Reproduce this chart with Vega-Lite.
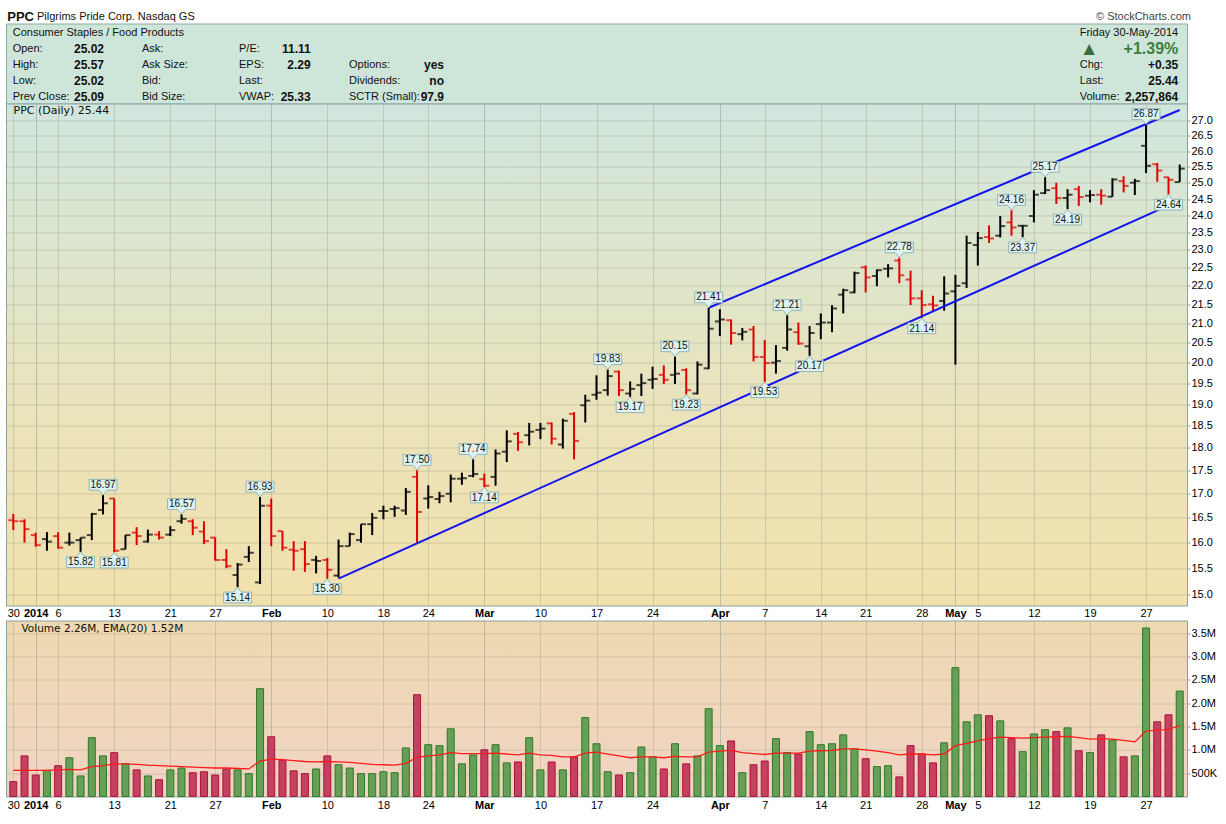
{
  "$schema": "https://vega.github.io/schema/vega-lite/v6.json",
  "background": "white",
  "padding": {"left": 5, "top": 9.5, "right": 5, "bottom": 5},
  "config": {
    "font": "Liberation Sans",
    "view": {"stroke": null},
    "axis": {"domain": false, "ticks": false, "labelFont": "Liberation Sans", "labelFontSize": 11, "labelColor": "#000"}
  },
  "datasets": {
    "bars": [
      {"date": "2013-12-30", "open": 16.45, "high": 16.58, "low": 16.25, "close": 16.43, "volume": 320000, "ema": 560000},
      {"date": "2013-12-31", "open": 16.43, "high": 16.47, "low": 16.00, "close": 16.27, "volume": 870000, "ema": 560000},
      {"date": "2014-01-02", "open": 16.15, "high": 16.20, "low": 15.92, "close": 15.95, "volume": 460000, "ema": 560000},
      {"date": "2014-01-03", "open": 16.07, "high": 16.21, "low": 15.84, "close": 16.02, "volume": 560000, "ema": 560000},
      {"date": "2014-01-06", "open": 16.13, "high": 16.21, "low": 15.88, "close": 15.90, "volume": 660000, "ema": 570000},
      {"date": "2014-01-07", "open": 16.00, "high": 16.20, "low": 15.94, "close": 16.00, "volume": 830000, "ema": 580000},
      {"date": "2014-01-08", "open": 16.05, "high": 16.10, "low": 15.82, "close": 16.10, "volume": 440000, "ema": 570000},
      {"date": "2014-01-09", "open": 16.15, "high": 16.60, "low": 16.05, "close": 16.58, "volume": 1260000, "ema": 640000},
      {"date": "2014-01-10", "open": 16.66, "high": 16.97, "low": 16.57, "close": 16.80, "volume": 870000, "ema": 660000},
      {"date": "2014-01-13", "open": 16.90, "high": 16.90, "low": 15.81, "close": 15.84, "volume": 940000, "ema": 700000},
      {"date": "2014-01-14", "open": 15.87, "high": 16.15, "low": 15.87, "close": 16.15, "volume": 700000, "ema": 700000},
      {"date": "2014-01-15", "open": 16.20, "high": 16.31, "low": 15.95, "close": 16.13, "volume": 570000, "ema": 690000},
      {"date": "2014-01-16", "open": 16.02, "high": 16.26, "low": 16.00, "close": 16.16, "volume": 440000, "ema": 670000},
      {"date": "2014-01-17", "open": 16.16, "high": 16.23, "low": 16.06, "close": 16.10, "volume": 360000, "ema": 660000},
      {"date": "2014-01-21", "open": 16.16, "high": 16.33, "low": 16.13, "close": 16.25, "volume": 570000, "ema": 650000},
      {"date": "2014-01-22", "open": 16.43, "high": 16.57, "low": 16.38, "close": 16.48, "volume": 610000, "ema": 640000},
      {"date": "2014-01-23", "open": 16.43, "high": 16.47, "low": 16.15, "close": 16.30, "volume": 510000, "ema": 630000},
      {"date": "2014-01-24", "open": 16.22, "high": 16.43, "low": 15.97, "close": 16.03, "volume": 530000, "ema": 620000},
      {"date": "2014-01-27", "open": 16.10, "high": 16.10, "low": 15.65, "close": 15.66, "volume": 460000, "ema": 610000},
      {"date": "2014-01-28", "open": 15.66, "high": 15.87, "low": 15.50, "close": 15.54, "volume": 590000, "ema": 610000},
      {"date": "2014-01-29", "open": 15.37, "high": 15.60, "low": 15.14, "close": 15.57, "volume": 570000, "ema": 600000},
      {"date": "2014-01-30", "open": 15.72, "high": 15.93, "low": 15.62, "close": 15.80, "volume": 490000, "ema": 590000},
      {"date": "2014-01-31", "open": 15.23, "high": 16.93, "low": 15.20, "close": 16.75, "volume": 2310000, "ema": 760000},
      {"date": "2014-02-03", "open": 16.75, "high": 16.90, "low": 15.93, "close": 16.13, "volume": 1280000, "ema": 800000},
      {"date": "2014-02-04", "open": 16.23, "high": 16.23, "low": 15.84, "close": 15.90, "volume": 780000, "ema": 790000},
      {"date": "2014-02-05", "open": 15.86, "high": 16.03, "low": 15.45, "close": 15.84, "volume": 550000, "ema": 770000},
      {"date": "2014-02-06", "open": 15.87, "high": 16.03, "low": 15.43, "close": 15.58, "volume": 490000, "ema": 750000},
      {"date": "2014-02-07", "open": 15.66, "high": 15.74, "low": 15.40, "close": 15.64, "volume": 590000, "ema": 740000},
      {"date": "2014-02-10", "open": 15.66, "high": 15.70, "low": 15.30, "close": 15.47, "volume": 870000, "ema": 750000},
      {"date": "2014-02-11", "open": 15.36, "high": 16.06, "low": 15.32, "close": 15.93, "volume": 680000, "ema": 740000},
      {"date": "2014-02-12", "open": 15.93, "high": 16.20, "low": 15.93, "close": 16.17, "volume": 610000, "ema": 730000},
      {"date": "2014-02-13", "open": 16.05, "high": 16.37, "low": 16.00, "close": 16.37, "volume": 490000, "ema": 710000},
      {"date": "2014-02-14", "open": 16.37, "high": 16.60, "low": 16.15, "close": 16.50, "volume": 490000, "ema": 690000},
      {"date": "2014-02-18", "open": 16.64, "high": 16.75, "low": 16.47, "close": 16.64, "volume": 530000, "ema": 680000},
      {"date": "2014-02-19", "open": 16.68, "high": 16.75, "low": 16.52, "close": 16.70, "volume": 510000, "ema": 670000},
      {"date": "2014-02-20", "open": 16.65, "high": 17.12, "low": 16.56, "close": 17.04, "volume": 1040000, "ema": 710000},
      {"date": "2014-02-21", "open": 17.36, "high": 17.50, "low": 16.00, "close": 16.62, "volume": 2180000, "ema": 840000},
      {"date": "2014-02-24", "open": 16.90, "high": 17.18, "low": 16.69, "close": 16.93, "volume": 1110000, "ema": 870000},
      {"date": "2014-02-25", "open": 16.89, "high": 17.04, "low": 16.80, "close": 16.95, "volume": 1090000, "ema": 890000},
      {"date": "2014-02-26", "open": 17.00, "high": 17.41, "low": 16.82, "close": 17.32, "volume": 1450000, "ema": 940000},
      {"date": "2014-02-27", "open": 17.32, "high": 17.45, "low": 17.19, "close": 17.33, "volume": 700000, "ema": 920000},
      {"date": "2014-02-28", "open": 17.38, "high": 17.74, "low": 17.35, "close": 17.42, "volume": 890000, "ema": 920000},
      {"date": "2014-03-03", "open": 17.31, "high": 17.43, "low": 17.14, "close": 17.17, "volume": 1000000, "ema": 920000},
      {"date": "2014-03-04", "open": 17.36, "high": 17.96, "low": 17.17, "close": 17.87, "volume": 1110000, "ema": 930000},
      {"date": "2014-03-05", "open": 17.91, "high": 18.39, "low": 17.68, "close": 18.14, "volume": 720000, "ema": 910000},
      {"date": "2014-03-06", "open": 18.31, "high": 18.35, "low": 17.93, "close": 18.12, "volume": 740000, "ema": 890000},
      {"date": "2014-03-07", "open": 18.28, "high": 18.56, "low": 18.05, "close": 18.36, "volume": 1260000, "ema": 930000},
      {"date": "2014-03-10", "open": 18.40, "high": 18.56, "low": 18.19, "close": 18.43, "volume": 570000, "ema": 890000},
      {"date": "2014-03-11", "open": 18.55, "high": 18.57, "low": 18.07, "close": 18.20, "volume": 740000, "ema": 880000},
      {"date": "2014-03-12", "open": 18.07, "high": 18.66, "low": 17.98, "close": 18.61, "volume": 570000, "ema": 850000},
      {"date": "2014-03-13", "open": 18.77, "high": 18.81, "low": 17.74, "close": 18.15, "volume": 850000, "ema": 850000},
      {"date": "2014-03-14", "open": 18.97, "high": 19.22, "low": 18.57, "close": 19.08, "volume": 1690000, "ema": 930000},
      {"date": "2014-03-17", "open": 19.22, "high": 19.69, "low": 19.10, "close": 19.27, "volume": 1130000, "ema": 950000},
      {"date": "2014-03-18", "open": 19.33, "high": 19.83, "low": 19.20, "close": 19.67, "volume": 530000, "ema": 910000},
      {"date": "2014-03-19", "open": 19.78, "high": 19.80, "low": 19.19, "close": 19.33, "volume": 460000, "ema": 870000},
      {"date": "2014-03-20", "open": 19.25, "high": 19.54, "low": 19.17, "close": 19.36, "volume": 510000, "ema": 830000},
      {"date": "2014-03-21", "open": 19.45, "high": 19.73, "low": 19.19, "close": 19.50, "volume": 1060000, "ema": 850000},
      {"date": "2014-03-24", "open": 19.58, "high": 19.90, "low": 19.36, "close": 19.60, "volume": 850000, "ema": 850000},
      {"date": "2014-03-25", "open": 19.70, "high": 19.93, "low": 19.48, "close": 19.58, "volume": 590000, "ema": 830000},
      {"date": "2014-03-26", "open": 19.70, "high": 20.15, "low": 19.48, "close": 19.73, "volume": 1130000, "ema": 860000},
      {"date": "2014-03-27", "open": 19.82, "high": 19.86, "low": 19.23, "close": 19.33, "volume": 700000, "ema": 850000},
      {"date": "2014-03-28", "open": 19.25, "high": 20.03, "low": 19.23, "close": 19.95, "volume": 870000, "ema": 850000},
      {"date": "2014-03-31", "open": 19.86, "high": 21.41, "low": 19.84, "close": 20.86, "volume": 1880000, "ema": 950000},
      {"date": "2014-04-01", "open": 21.05, "high": 21.37, "low": 20.67, "close": 21.10, "volume": 1090000, "ema": 970000},
      {"date": "2014-04-02", "open": 21.08, "high": 21.10, "low": 20.45, "close": 20.75, "volume": 1190000, "ema": 990000},
      {"date": "2014-04-03", "open": 20.72, "high": 20.88, "low": 20.56, "close": 20.78, "volume": 510000, "ema": 940000},
      {"date": "2014-04-04", "open": 20.84, "high": 20.93, "low": 20.03, "close": 20.14, "volume": 680000, "ema": 920000},
      {"date": "2014-04-07", "open": 20.14, "high": 20.57, "low": 19.53, "close": 19.99, "volume": 760000, "ema": 900000},
      {"date": "2014-04-08", "open": 20.00, "high": 20.44, "low": 19.73, "close": 20.04, "volume": 1240000, "ema": 930000},
      {"date": "2014-04-09", "open": 20.37, "high": 21.21, "low": 20.30, "close": 20.84, "volume": 940000, "ema": 930000},
      {"date": "2014-04-10", "open": 20.77, "high": 21.02, "low": 20.45, "close": 20.48, "volume": 910000, "ema": 930000},
      {"date": "2014-04-11", "open": 20.41, "high": 20.93, "low": 20.17, "close": 20.75, "volume": 1390000, "ema": 970000},
      {"date": "2014-04-14", "open": 20.98, "high": 21.26, "low": 20.59, "close": 21.02, "volume": 1110000, "ema": 980000},
      {"date": "2014-04-15", "open": 21.02, "high": 21.48, "low": 20.77, "close": 21.39, "volume": 1130000, "ema": 990000},
      {"date": "2014-04-16", "open": 21.76, "high": 21.92, "low": 21.26, "close": 21.88, "volume": 1320000, "ema": 1020000},
      {"date": "2014-04-17", "open": 21.82, "high": 22.39, "low": 21.80, "close": 22.35, "volume": 1020000, "ema": 1020000},
      {"date": "2014-04-21", "open": 22.51, "high": 22.56, "low": 21.82, "close": 22.23, "volume": 810000, "ema": 1000000},
      {"date": "2014-04-22", "open": 22.27, "high": 22.45, "low": 21.99, "close": 22.43, "volume": 640000, "ema": 970000},
      {"date": "2014-04-23", "open": 22.47, "high": 22.60, "low": 22.23, "close": 22.48, "volume": 660000, "ema": 940000},
      {"date": "2014-04-24", "open": 22.70, "high": 22.78, "low": 22.07, "close": 22.29, "volume": 420000, "ema": 890000},
      {"date": "2014-04-25", "open": 22.17, "high": 22.42, "low": 21.48, "close": 21.66, "volume": 1090000, "ema": 910000},
      {"date": "2014-04-28", "open": 21.66, "high": 21.88, "low": 21.14, "close": 21.48, "volume": 910000, "ema": 910000},
      {"date": "2014-04-29", "open": 21.50, "high": 21.73, "low": 21.30, "close": 21.47, "volume": 720000, "ema": 890000},
      {"date": "2014-04-30", "open": 21.59, "high": 22.26, "low": 21.33, "close": 21.79, "volume": 1150000, "ema": 910000},
      {"date": "2014-05-01", "open": 21.85, "high": 22.30, "low": 19.95, "close": 22.00, "volume": 2760000, "ema": 1090000},
      {"date": "2014-05-02", "open": 22.07, "high": 23.41, "low": 21.94, "close": 23.20, "volume": 1600000, "ema": 1140000},
      {"date": "2014-05-05", "open": 23.14, "high": 23.52, "low": 22.56, "close": 23.34, "volume": 1750000, "ema": 1190000},
      {"date": "2014-05-06", "open": 23.37, "high": 23.71, "low": 23.20, "close": 23.33, "volume": 1730000, "ema": 1240000},
      {"date": "2014-05-07", "open": 23.41, "high": 23.99, "low": 23.36, "close": 23.69, "volume": 1620000, "ema": 1270000},
      {"date": "2014-05-08", "open": 23.80, "high": 24.16, "low": 23.41, "close": 23.65, "volume": 1240000, "ema": 1260000},
      {"date": "2014-05-09", "open": 23.70, "high": 23.72, "low": 23.37, "close": 23.70, "volume": 960000, "ema": 1250000},
      {"date": "2014-05-12", "open": 23.99, "high": 24.77, "low": 23.80, "close": 24.63, "volume": 1340000, "ema": 1260000},
      {"date": "2014-05-13", "open": 24.68, "high": 25.17, "low": 24.65, "close": 24.77, "volume": 1430000, "ema": 1270000},
      {"date": "2014-05-14", "open": 24.83, "high": 25.00, "low": 24.35, "close": 24.53, "volume": 1390000, "ema": 1280000},
      {"date": "2014-05-15", "open": 24.53, "high": 24.80, "low": 24.19, "close": 24.63, "volume": 1470000, "ema": 1290000},
      {"date": "2014-05-16", "open": 24.80, "high": 24.90, "low": 24.29, "close": 24.56, "volume": 980000, "ema": 1260000},
      {"date": "2014-05-19", "open": 24.60, "high": 24.77, "low": 24.40, "close": 24.62, "volume": 940000, "ema": 1230000},
      {"date": "2014-05-20", "open": 24.63, "high": 24.80, "low": 24.33, "close": 24.60, "volume": 1320000, "ema": 1240000},
      {"date": "2014-05-21", "open": 24.57, "high": 25.14, "low": 24.57, "close": 25.10, "volume": 1210000, "ema": 1230000},
      {"date": "2014-05-22", "open": 25.05, "high": 25.20, "low": 24.70, "close": 24.90, "volume": 850000, "ema": 1200000},
      {"date": "2014-05-23", "open": 25.00, "high": 25.12, "low": 24.62, "close": 25.05, "volume": 870000, "ema": 1170000},
      {"date": "2014-05-27", "open": 26.17, "high": 26.87, "low": 25.30, "close": 25.53, "volume": 3610000, "ema": 1400000},
      {"date": "2014-05-28", "open": 25.58, "high": 25.62, "low": 25.03, "close": 25.38, "volume": 1600000, "ema": 1420000},
      {"date": "2014-05-29", "open": 25.17, "high": 25.18, "low": 24.64, "close": 25.09, "volume": 1750000, "ema": 1440000},
      {"date": "2014-05-30", "open": 25.02, "high": 25.57, "low": 25.02, "close": 25.44, "volume": 2257864, "ema": 1520000}
    ],
    "channels": [
      {"line": "lower", "date": "2014-02-11", "price": 15.30},
      {"line": "lower", "date": "2014-05-30", "price": 24.46},
      {"line": "upper", "date": "2014-03-31", "price": 21.41},
      {"line": "upper", "date": "2014-05-30", "price": 27.36}
    ],
    "peaks": [
      {"date": "2014-01-10", "price": 16.97, "side": "high"},
      {"date": "2014-01-22", "price": 16.57, "side": "high"},
      {"date": "2014-01-31", "price": 16.93, "side": "high"},
      {"date": "2014-02-21", "price": 17.50, "side": "high"},
      {"date": "2014-02-28", "price": 17.74, "side": "high"},
      {"date": "2014-03-18", "price": 19.83, "side": "high"},
      {"date": "2014-03-26", "price": 20.15, "side": "high"},
      {"date": "2014-03-31", "price": 21.41, "side": "high"},
      {"date": "2014-04-09", "price": 21.21, "side": "high"},
      {"date": "2014-04-24", "price": 22.78, "side": "high"},
      {"date": "2014-05-08", "price": 24.16, "side": "high"},
      {"date": "2014-05-13", "price": 25.17, "side": "high"},
      {"date": "2014-05-27", "price": 26.87, "side": "high"},
      {"date": "2014-01-08", "price": 15.82, "side": "low"},
      {"date": "2014-01-13", "price": 15.81, "side": "low"},
      {"date": "2014-01-29", "price": 15.14, "side": "low"},
      {"date": "2014-02-10", "price": 15.30, "side": "low"},
      {"date": "2014-03-03", "price": 17.14, "side": "low"},
      {"date": "2014-03-20", "price": 19.17, "side": "low"},
      {"date": "2014-03-27", "price": 19.23, "side": "low"},
      {"date": "2014-04-07", "price": 19.53, "side": "low"},
      {"date": "2014-04-11", "price": 20.17, "side": "low"},
      {"date": "2014-04-28", "price": 21.14, "side": "low"},
      {"date": "2014-05-09", "price": 23.37, "side": "low"},
      {"date": "2014-05-15", "price": 24.19, "side": "low"},
      {"date": "2014-05-29", "price": 24.64, "side": "low"}
    ],
    "quote": [
      {"row": 0, "col": 0, "label": "Pilgrims Pride Corp. Nasdaq GS", "value": "PPC"},
      {"row": 0, "col": 6, "label": "© StockCharts.com", "value": ""},
      {"row": 1, "col": 1, "label": "Consumer Staples / Food Products", "value": ""},
      {"row": 1, "col": 5, "label": "Friday  30-May-2014", "value": ""},
      {"row": 2, "col": 1, "label": "Open:", "value": "25.02"},
      {"row": 3, "col": 1, "label": "High:", "value": "25.57"},
      {"row": 4, "col": 1, "label": "Low:", "value": "25.02"},
      {"row": 5, "col": 1, "label": "Prev Close:", "value": "25.09"},
      {"row": 2, "col": 2, "label": "Ask:", "value": ""},
      {"row": 3, "col": 2, "label": "Ask Size:", "value": ""},
      {"row": 4, "col": 2, "label": "Bid:", "value": ""},
      {"row": 5, "col": 2, "label": "Bid Size:", "value": ""},
      {"row": 2, "col": 3, "label": "P/E:", "value": "11.11"},
      {"row": 3, "col": 3, "label": "EPS:", "value": "2.29"},
      {"row": 4, "col": 3, "label": "Last:", "value": ""},
      {"row": 5, "col": 3, "label": "VWAP:", "value": "25.33"},
      {"row": 3, "col": 4, "label": "Options:", "value": "yes"},
      {"row": 4, "col": 4, "label": "Dividends:", "value": "no"},
      {"row": 5, "col": 4, "label": "SCTR (Small):", "value": "97.9"},
      {"row": 2, "col": 5, "label": "▲", "value": "+1.39%"},
      {"row": 3, "col": 5, "label": "Chg:", "value": "+0.35"},
      {"row": 4, "col": 5, "label": "Last:", "value": "25.44"},
      {"row": 5, "col": 5, "label": "Volume:", "value": "2,257,864"}
    ]
  },
  "bounds": "flush",
  "spacing": 0,
  "vconcat": [
    {
      "width": 1181,
      "height": 80,
      "data": {"name": "quote"},
      "view": {"fill": "#cee5d9", "stroke": "#8fa9a9"},
      "resolve": {"scale": {"x": "independent"}},
      "layer": [
        {
          "mark": {"type": "text", "align": "left", "baseline": "middle"},
          "encoding": {
            "x": {"field": "col", "type": "quantitative", "axis": null,
                  "scale": {"domain": [0, 1, 2, 3, 4, 5, 6], "range": [31, 6.7, 136, 233, 343, 1073.7, 1090], "nice": false, "zero": false}},
            "y": {"field": "row", "type": "quantitative", "axis": null,
                  "scale": {"domain": [0, 5], "range": [-7, 73.7], "nice": false, "zero": false}},
            "text": {"field": "label"},
            "color": {"condition": [
              {"test": "datum.label == '▲'", "value": "#3a6b3a"},
              {"test": "datum.col == 6", "value": "#444444"}
            ], "value": "#111111"},
            "size": {"condition": [
              {"test": "datum.label == '▲'", "value": 19},
              {"test": "datum.row == 0", "value": 11}
            ], "value": 11}
          }
        },
        {
          "mark": {"type": "text", "align": "right", "baseline": "middle", "fontWeight": "bold"},
          "encoding": {
            "x": {"field": "col", "type": "quantitative", "axis": null,
                  "scale": {"domain": [0, 1, 2, 3, 4, 5], "range": [28, 98, 200, 304.7, 438, 1172.3], "nice": false, "zero": false}},
            "y": {"field": "row", "type": "quantitative", "axis": null},
            "text": {"field": "value"},
            "color": {"condition": {"test": "datum.value == '+1.39%'", "value": "#3d7d3d"}, "value": "#111111"},
            "size": {"condition": [
              {"test": "datum.value == 'PPC'", "value": 13},
              {"test": "datum.value == '+1.39%'", "value": 16}
            ], "value": 12}
          }
        }
      ]
    },
    {
      "bounds": "flush",
      "spacing": 15,
      "vconcat": [
        {
          "width": 1181,
          "height": 502,
          "view": {"stroke": "#8aa2a2", "fill": {"gradient": "linear", "x1": 0, "y1": 0, "x2": 0, "y2": 1, "stops": [
            {"offset": 0, "color": "#d0e6dd"},
            {"offset": 0.3, "color": "#dde6cd"},
            {"offset": 0.62, "color": "#ebe3bb"},
            {"offset": 1, "color": "#f1e1ac"}
          ]}},
          "layer": [
            {
              "data": {"name": "bars"},
              "transform": [
                {"window": [{"op": "lag", "field": "close", "as": "prev"}], "sort": [{"field": "date"}]},
                {"calculate": "datum.prev == null || datum.close < datum.prev ? 'down' : 'up'", "as": "dir"}
              ],
              "encoding": {
                "x": {"field": "date", "type": "ordinal", "scale": {"type": "point", "padding": 0.65},
                      "axis": {
                        "values": ["2013-12-30", "2014-01-02", "2014-01-06", "2014-01-13", "2014-01-21", "2014-01-27", "2014-02-03", "2014-02-10", "2014-02-18", "2014-02-24", "2014-03-03", "2014-03-10", "2014-03-17", "2014-03-24", "2014-04-01", "2014-04-07", "2014-04-14", "2014-04-21", "2014-04-28", "2014-05-01", "2014-05-05", "2014-05-12", "2014-05-19", "2014-05-27"],
                        "labelExpr": "datum.value == '2014-01-02' ? '2014' : datum.value == '2014-02-03' ? 'Feb' : datum.value == '2014-03-03' ? 'Mar' : datum.value == '2014-04-01' ? 'Apr' : datum.value == '2014-05-01' ? 'May' : '' + toNumber(substring(datum.value, 8, 10))",
                        "labelFontWeight": {"condition": {"test": "indexof(['2014-01-02','2014-02-03','2014-03-03','2014-04-01','2014-05-01'], datum.value) >= 0", "value": "bold"}, "value": "normal"},
                        "labelAngle": 0,
                        "labelPadding": 2,
                        "labelOverlap": false,
                        "grid": true,
                        "gridColor": {"condition": {"test": "indexof(['2014-01-02','2014-02-03','2014-03-03','2014-04-01','2014-05-01'], datum.value) >= 0", "value": "#7f9490"}, "value": "#a8aa90"},
                        "gridOpacity": 0.45,
                        "title": "PPC (Daily) 25.44",
                        "titleX": 7,
                        "titleY": -495,
                        "titleAlign": "left",
                        "titleBaseline": "middle",
                        "titleAngle": 0,
                        "titleFont": "DejaVu Sans",
                        "titleFontSize": 11,
                        "titleFontWeight": "normal",
                        "titleColor": "#111111"
                      }},
                "color": {"condition": {"test": "datum.dir == 'down'", "value": "#e00000"}, "value": "#000000"}
              },
              "layer": [
                {
                  "mark": {"type": "rule", "strokeWidth": 2},
                  "encoding": {
                    "y": {"field": "low", "type": "quantitative",
                          "scale": {"type": "log", "domain": [14.8, 27.58], "nice": false, "zero": false},
                          "axis": {"orient": "right", "values": [15, 15.5, 16, 16.5, 17, 17.5, 18, 18.5, 19, 19.5, 20, 20.5, 21, 21.5, 22, 22.5, 23, 23.5, 24, 24.5, 25, 25.5, 26, 26.5, 27],
                                   "tickCount": 40, "format": ".1f", "labelOverlap": false, "grid": true, "gridColor": "#a8aa90", "gridOpacity": 0.45, "ticks": true, "tickSize": 3, "tickColor": "#8aa2a2", "labelPadding": 1, "title": null}},
                    "y2": {"field": "high"}
                  }
                },
                {
                  "mark": {"type": "tick", "orient": "horizontal", "size": 5, "thickness": 2, "xOffset": -2.5},
                  "encoding": {"y": {"field": "open", "type": "quantitative", "title": null}}
                },
                {
                  "mark": {"type": "tick", "orient": "horizontal", "size": 5, "thickness": 2, "xOffset": 2.5},
                  "encoding": {"y": {"field": "close", "type": "quantitative", "title": null}}
                }
              ]
            },
            {
              "data": {"name": "channels"},
              "mark": {"type": "line", "color": "#1414ee", "strokeWidth": 2},
              "encoding": {
                "x": {"field": "date", "type": "ordinal"},
                "y": {"field": "price", "type": "quantitative", "title": null},
                "detail": {"field": "line"}
              }
            },
            {
              "data": {"name": "peaks"},
              "transform": [{"filter": "datum.side == 'high'"}],
              "encoding": {
                "x": {"field": "date", "type": "ordinal"},
                "y": {"field": "price", "type": "quantitative", "title": null}
              },
              "layer": [
                {"mark": {"type": "point", "shape": "M-0.93,-1.05L0.93,-1.05L0.93,-0.33L0.27,-0.33L0,-0.02L-0.27,-0.33L-0.93,-0.33Z", "size": 900, "filled": true, "fill": "#def3f1", "stroke": "#93b3b3", "strokeWidth": 1, "opacity": 1}},
                {"mark": {"type": "text", "dy": -10.4, "baseline": "middle", "fontSize": 10, "color": "#111111"},
                 "encoding": {"text": {"field": "price", "type": "quantitative", "format": ".2f"}}}
              ]
            },
            {
              "data": {"name": "peaks"},
              "transform": [{"filter": "datum.side == 'low'"}],
              "encoding": {
                "x": {"field": "date", "type": "ordinal"},
                "y": {"field": "price", "type": "quantitative", "title": null}
              },
              "layer": [
                {"mark": {"type": "point", "shape": "M-0.93,1.05L0.93,1.05L0.93,0.33L0.27,0.33L0,0.02L-0.27,0.33L-0.93,0.33Z", "size": 900, "filled": true, "fill": "#def3f1", "stroke": "#93b3b3", "strokeWidth": 1, "opacity": 1}},
                {"mark": {"type": "text", "dy": 10.6, "baseline": "middle", "fontSize": 10, "color": "#111111"},
                 "encoding": {"text": {"field": "price", "type": "quantitative", "format": ".2f"}}}
              ]
            }
          ]
        },
        {
          "width": 1181,
          "height": 176,
          "data": {"name": "bars"},
          "transform": [
            {"window": [{"op": "lag", "field": "close", "as": "prev"}], "sort": [{"field": "date"}]},
            {"calculate": "datum.prev == null || datum.close < datum.prev ? 'down' : 'up'", "as": "dir"}
          ],
          "view": {"stroke": "#8aa2a2", "fill": {"gradient": "linear", "x1": 0, "y1": 0, "x2": 0, "y2": 1, "stops": [
            {"offset": 0, "color": "#eed9b1"},
            {"offset": 1, "color": "#f1d4c4"}
          ]}},
          "encoding": {
            "x": {"field": "date", "type": "ordinal", "scale": {"type": "point", "padding": 0.65},
                  "axis": {
                    "values": ["2013-12-30", "2014-01-02", "2014-01-06", "2014-01-13", "2014-01-21", "2014-01-27", "2014-02-03", "2014-02-10", "2014-02-18", "2014-02-24", "2014-03-03", "2014-03-10", "2014-03-17", "2014-03-24", "2014-04-01", "2014-04-07", "2014-04-14", "2014-04-21", "2014-04-28", "2014-05-01", "2014-05-05", "2014-05-12", "2014-05-19", "2014-05-27"],
                    "labelExpr": "datum.value == '2014-01-02' ? '2014' : datum.value == '2014-02-03' ? 'Feb' : datum.value == '2014-03-03' ? 'Mar' : datum.value == '2014-04-01' ? 'Apr' : datum.value == '2014-05-01' ? 'May' : '' + toNumber(substring(datum.value, 8, 10))",
                    "labelFontWeight": {"condition": {"test": "indexof(['2014-01-02','2014-02-03','2014-03-03','2014-04-01','2014-05-01'], datum.value) >= 0", "value": "bold"}, "value": "normal"},
                    "labelAngle": 0,
                    "labelPadding": 3,
                    "labelOverlap": false,
                    "grid": true,
                    "gridColor": {"condition": {"test": "indexof(['2014-01-02','2014-02-03','2014-03-03','2014-04-01','2014-05-01'], datum.value) >= 0", "value": "#7f9490"}, "value": "#a8aa90"},
                    "gridOpacity": 0.45,
                    "title": "Volume 2.26M, EMA(20) 1.52M",
                    "titleX": 15,
                    "titleY": -168,
                    "titleAlign": "left",
                    "titleBaseline": "middle",
                    "titleAngle": 0,
                    "titleFont": "DejaVu Sans",
                    "titleFontSize": 10.5,
                    "titleFontWeight": "normal",
                    "titleColor": "#111111"
                  }}
          },
          "layer": [
            {
              "mark": {"type": "bar", "size": 7, "strokeWidth": 1},
              "encoding": {
                "y": {"field": "volume", "type": "quantitative",
                      "scale": {"domain": [0, 3770000], "nice": false},
                      "axis": {"orient": "right", "values": [500000, 1000000, 1500000, 2000000, 2500000, 3000000, 3500000], "tickCount": 20,
                               "labelExpr": "datum.value < 1000000 ? format(datum.value / 1000, 'd') + 'K' : format(datum.value / 1000000, '.1f') + 'M'",
                               "labelOverlap": false, "grid": true, "gridColor": "#a8aa90", "gridOpacity": 0.45, "ticks": true, "tickSize": 3, "tickColor": "#8aa2a2", "labelPadding": 1, "title": null}},
                "fill": {"condition": {"test": "datum.dir == 'down'", "value": "#c2425f"}, "value": "#659f58"},
                "stroke": {"condition": {"test": "datum.dir == 'down'", "value": "#b0123d"}, "value": "#2e7a25"}
              }
            },
            {
              "mark": {"type": "line", "color": "#ff1a1a", "strokeWidth": 1.3},
              "encoding": {"y": {"field": "ema", "type": "quantitative", "title": null}}
            }
          ]
        }
      ]
    }
  ]
}
